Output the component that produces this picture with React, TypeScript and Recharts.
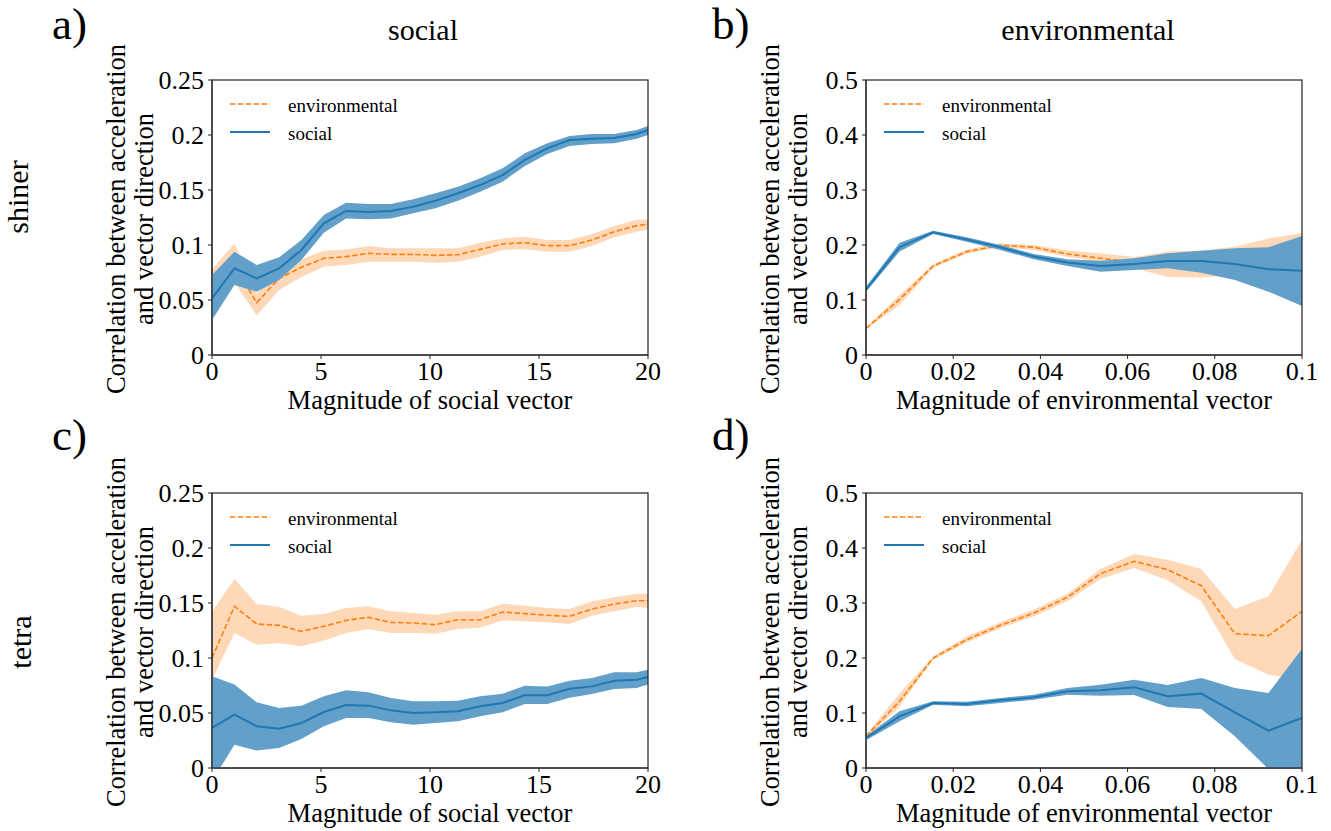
import React from 'react';
import { ComposedChart, Area, Line, XAxis, YAxis } from 'recharts';

// x positions of the bins
const socialMagnitude = [0, 1.03, 2.05, 3.08, 4.1, 5.13, 6.15, 7.18, 8.2, 9.23, 10.25, 11.28, 12.3, 13.33, 14.35, 15.38, 16.4, 17.43, 18.45, 19.48, 20];
const envMagnitude = [0, 0.0077, 0.0154, 0.0231, 0.0308, 0.0385, 0.0462, 0.0538, 0.0615, 0.0692, 0.0769, 0.0846, 0.0923, 0.1];

// a) shiner, social vector
const aSocial = [0.0515, 0.0788, 0.0697, 0.0788, 0.0955, 0.1197, 0.131, 0.13, 0.131, 0.1348, 0.1403, 0.147, 0.1545, 0.1636, 0.1773, 0.1879, 0.1955, 0.1967, 0.1973, 0.2009, 0.2045];
const aSocialLo = [0.0318, 0.0636, 0.0576, 0.0682, 0.0864, 0.1112, 0.1242, 0.1233, 0.1242, 0.1288, 0.1333, 0.1403, 0.1485, 0.1576, 0.1718, 0.1827, 0.19, 0.1918, 0.1924, 0.1967, 0.2];
const aSocialHi = [0.0727, 0.0939, 0.0818, 0.0888, 0.1045, 0.1273, 0.1385, 0.1373, 0.1373, 0.1415, 0.147, 0.153, 0.1606, 0.1697, 0.1833, 0.1924, 0.1991, 0.2009, 0.2009, 0.2045, 0.2082];
const aEnv = [0.068, 0.082, 0.0476, 0.0697, 0.0797, 0.0879, 0.0894, 0.0924, 0.0915, 0.0915, 0.0906, 0.0912, 0.096, 0.1009, 0.1021, 0.0994, 0.0994, 0.1045, 0.1121, 0.1176, 0.119];
const aEnvLo = [0.06, 0.066, 0.036, 0.059, 0.071, 0.0803, 0.0818, 0.0848, 0.0848, 0.0848, 0.0839, 0.0848, 0.0894, 0.0955, 0.0961, 0.0939, 0.0939, 0.0991, 0.107, 0.1121, 0.1142];
const aEnvHi = [0.078, 0.1015, 0.056, 0.0758, 0.087, 0.0948, 0.096, 0.099, 0.097, 0.097, 0.097, 0.097, 0.1021, 0.106, 0.1076, 0.1045, 0.1045, 0.11, 0.1173, 0.1227, 0.1233];

// b) shiner, environmental vector
const bSocial = [0.119, 0.196, 0.223, 0.21, 0.196, 0.179, 0.168, 0.162, 0.1655, 0.171, 0.171, 0.1655, 0.156, 0.153];
const bSocialLo = [0.115, 0.188, 0.22, 0.206, 0.191, 0.174, 0.1618, 0.1515, 0.1545, 0.1576, 0.1497, 0.1364, 0.1152, 0.0891];
const bSocialHi = [0.124, 0.204, 0.226, 0.214, 0.2, 0.1836, 0.174, 0.1715, 0.1758, 0.1848, 0.1897, 0.1939, 0.1958, 0.2164];
const bEnv = [0.0485, 0.101, 0.162, 0.188, 0.1994, 0.196, 0.1836, 0.176, 0.168, 0.165, 0.165, 0.17, 0.18, 0.19];
const bEnvLo = [0.047, 0.091, 0.158, 0.184, 0.196, 0.191, 0.178, 0.17, 0.158, 0.142, 0.141, 0.145, 0.148, 0.158];
const bEnvHi = [0.05, 0.109, 0.165, 0.192, 0.203, 0.2, 0.19, 0.185, 0.178, 0.188, 0.19, 0.197, 0.212, 0.222];

// c) tetra, social vector
const cSocial = [0.0364, 0.0485, 0.0379, 0.0358, 0.0409, 0.0509, 0.0573, 0.0567, 0.0524, 0.05, 0.0506, 0.0515, 0.0561, 0.0591, 0.0661, 0.0661, 0.0721, 0.0742, 0.0794, 0.0803, 0.0827];
const cSocialLo = [-0.012, 0.0212, 0.0158, 0.0182, 0.0264, 0.0379, 0.0455, 0.0455, 0.0415, 0.0394, 0.0409, 0.0424, 0.047, 0.0506, 0.0582, 0.0582, 0.0639, 0.0673, 0.0718, 0.0727, 0.0758];
const cSocialHi = [0.0833, 0.0758, 0.0597, 0.0545, 0.0567, 0.0652, 0.0706, 0.0688, 0.0636, 0.0606, 0.0606, 0.0612, 0.0652, 0.0676, 0.0748, 0.0742, 0.0794, 0.0818, 0.087, 0.087, 0.0894];
const cEnv = [0.1, 0.147, 0.1309, 0.1297, 0.1242, 0.1288, 0.1342, 0.137, 0.1324, 0.1318, 0.1303, 0.1348, 0.1348, 0.1418, 0.1403, 0.1388, 0.1379, 0.1445, 0.149, 0.1521, 0.1521];
const cEnvLo = [0.08, 0.1227, 0.112, 0.1136, 0.1106, 0.116, 0.1227, 0.1264, 0.1227, 0.1227, 0.1221, 0.1264, 0.1276, 0.1342, 0.1333, 0.1324, 0.1309, 0.1385, 0.1424, 0.1464, 0.1455];
const cEnvHi = [0.142, 0.1718, 0.149, 0.1464, 0.1385, 0.14, 0.1455, 0.147, 0.1424, 0.1409, 0.1394, 0.1424, 0.1424, 0.1494, 0.1476, 0.1455, 0.1445, 0.1515, 0.1552, 0.1585, 0.1585];

// d) tetra, environmental vector
const dSocial = [0.0545, 0.0939, 0.1182, 0.1164, 0.123, 0.1285, 0.1394, 0.1412, 0.1467, 0.1303, 0.1352, 0.1012, 0.0679, 0.0909];
const dSocialLo = [0.0503, 0.0848, 0.1152, 0.1121, 0.1182, 0.1242, 0.1333, 0.1315, 0.1327, 0.1109, 0.1073, 0.0576, -0.002, -0.03];
const dSocialHi = [0.0576, 0.103, 0.1212, 0.1206, 0.1273, 0.1333, 0.1455, 0.1515, 0.1606, 0.1509, 0.1636, 0.1455, 0.1364, 0.217];
const dEnv = [0.0576, 0.1212, 0.2, 0.2333, 0.2594, 0.2818, 0.3103, 0.3533, 0.3758, 0.3606, 0.3315, 0.2442, 0.2406, 0.2848];
const dEnvLo = [0.0527, 0.112, 0.197, 0.228, 0.254, 0.276, 0.303, 0.3436, 0.3636, 0.3412, 0.303, 0.1982, 0.1697, 0.16];
const dEnvHi = [0.0606, 0.135, 0.203, 0.239, 0.265, 0.288, 0.317, 0.3618, 0.389, 0.3788, 0.3618, 0.2891, 0.3121, 0.415];

const socialTicks = [0, 5, 10, 15, 20];
const envTicks = [0, 0.02, 0.04, 0.06, 0.08, 0.1];
const lowTicks = [0, 0.05, 0.1, 0.15, 0.2, 0.25];
const highTicks = [0, 0.1, 0.2, 0.3, 0.4, 0.5];

const FONT = "'Liberation Serif', 'Times New Roman', 'DejaVu Serif', serif";
const PW = 436;
const PH = 275;
const YW = 70;

const ORANGE = '#ff7f0e';
const ORANGE_BAND = '#ffd8b7';
const BLUE = '#1f77b4';
const BLUE_BAND = '#62a0ca';

const tickStyle = { fontSize: 26, fill: '#000', style: { fontFamily: FONT } };

type Row = { x: number; mean: number; band: number[] };

// one series (band + mean line) on its own chart, so the social layer sits on top of the environmental one
const Layer: React.FC<{
  rows: Row[];
  xTicks: number[];
  yTicks: number[];
  color: string;
  bandColor: string;
  dashed: boolean;
  axes: boolean;
}> = ({ rows, xTicks, yTicks, color, bandColor, dashed, axes }) => (
  <ComposedChart width={YW + PW + 20} height={20 + PH + 50} data={rows} margin={{ top: 20, right: 20, bottom: 0, left: 0 }}>
    <XAxis
      dataKey="x"
      type="number"
      domain={[0, xTicks[xTicks.length - 1]]}
      ticks={xTicks}
      interval={0}
      allowDataOverflow
      height={50}
      tickSize={4}
      tickMargin={3}
      tick={axes ? tickStyle : false}
      tickLine={axes}
      axisLine={axes}
      stroke="#222"
    />
    <YAxis
      type="number"
      domain={[0, yTicks[yTicks.length - 1]]}
      ticks={yTicks}
      interval={0}
      allowDataOverflow
      width={YW}
      tickSize={4}
      tickMargin={4}
      tick={axes ? tickStyle : false}
      tickLine={axes}
      axisLine={axes}
      stroke="#222"
    />
    <Area type="linear" dataKey="band" fill={bandColor} fillOpacity={1} stroke="none" isAnimationActive={false} />
    <Line
      type="linear"
      dataKey="mean"
      stroke={color}
      strokeWidth={dashed ? 1.6 : 2}
      strokeDasharray={dashed ? '5.5 2.4' : undefined}
      dot={false}
      isAnimationActive={false}
    />
  </ComposedChart>
);

type PanelProps = {
  left: number;
  top: number;
  x: number[];
  env: number[];
  envLo: number[];
  envHi: number[];
  social: number[];
  socialLo: number[];
  socialHi: number[];
  xTicks: number[];
  yTicks: number[];
};

const Panel: React.FC<PanelProps> = (p) => {
  const envRows = p.x.map((v, i) => ({ x: v, mean: p.env[i], band: [p.envLo[i], p.envHi[i]] }));
  const socialRows = p.x.map((v, i) => ({ x: v, mean: p.social[i], band: [p.socialLo[i], p.socialHi[i]] }));
  const pos: React.CSSProperties = { position: 'absolute', left: p.left - YW, top: p.top - 20, fontFamily: FONT };
  return (
    <>
      <div style={pos}>
        <Layer rows={envRows} xTicks={p.xTicks} yTicks={p.yTicks} color={ORANGE} bandColor={ORANGE_BAND} dashed axes />
      </div>
      <div style={pos}>
        <Layer rows={socialRows} xTicks={p.xTicks} yTicks={p.yTicks} color={BLUE} bandColor={BLUE_BAND} dashed={false} axes={false} />
      </div>
    </>
  );
};

const PanelText: React.FC<{ left: number; top: number; xLabel: string }> = ({ left, top, xLabel }) => {
  const cy = top + 139;
  return (
    <g>
      <rect x={left} y={top} width={PW} height={PH} fill="none" stroke="#222" strokeWidth={1.2} />
      <text x={left - 87} y={cy} fontSize={26.5} textAnchor="middle" transform={`rotate(-90 ${left - 87} ${cy})`}>
        Correlation between acceleration
      </text>
      <text x={left - 59} y={cy} fontSize={26.5} textAnchor="middle" transform={`rotate(-90 ${left - 59} ${cy})`}>
        and vector direction
      </text>
      <text x={left + PW / 2} y={top + PH + 54} fontSize={26.5} textAnchor="middle">
        {xLabel}
      </text>
      <line x1={left + 18} x2={left + 58} y1={top + 24} y2={top + 24} stroke={ORANGE} strokeWidth={1.6} strokeDasharray="5.5 2.4" />
      <text x={left + 76} y={top + 32} fontSize={19}>environmental</text>
      <line x1={left + 18} x2={left + 58} y1={top + 52} y2={top + 52} stroke={BLUE} strokeWidth={2} />
      <text x={left + 76} y={top + 60} fontSize={19}>social</text>
    </g>
  );
};

export default function App() {
  return (
    <div style={{ position: 'absolute', left: 0, top: 0, width: 1331, height: 831, background: '#fff', fontFamily: FONT }}>
      <Panel left={212} top={80} x={socialMagnitude} env={aEnv} envLo={aEnvLo} envHi={aEnvHi}
        social={aSocial} socialLo={aSocialLo} socialHi={aSocialHi} xTicks={socialTicks} yTicks={lowTicks} />
      <Panel left={866} top={80} x={envMagnitude} env={bEnv} envLo={bEnvLo} envHi={bEnvHi}
        social={bSocial} socialLo={bSocialLo} socialHi={bSocialHi} xTicks={envTicks} yTicks={highTicks} />
      <Panel left={212} top={493} x={socialMagnitude} env={cEnv} envLo={cEnvLo} envHi={cEnvHi}
        social={cSocial} socialLo={cSocialLo} socialHi={cSocialHi} xTicks={socialTicks} yTicks={lowTicks} />
      <Panel left={866} top={493} x={envMagnitude} env={dEnv} envLo={dEnvLo} envHi={dEnvHi}
        social={dSocial} socialLo={dSocialLo} socialHi={dSocialHi} xTicks={envTicks} yTicks={highTicks} />
      <svg width={1331} height={831} style={{ position: 'absolute', left: 0, top: 0, pointerEvents: 'none', fontFamily: FONT }} fill="#000">
        <text x={52} y={39} fontSize={45}>a)</text>
        <text x={712} y={39} fontSize={45}>b)</text>
        <text x={52} y={450} fontSize={45}>c)</text>
        <text x={712} y={450} fontSize={45}>d)</text>
        <text x={423} y={40} fontSize={30} textAnchor="middle">social</text>
        <text x={1088} y={40} fontSize={30} textAnchor="middle">environmental</text>
        <text x={28} y={197} fontSize={30} textAnchor="middle" transform="rotate(-90 28 197)">shiner</text>
        <text x={31} y={642} fontSize={30} textAnchor="middle" transform="rotate(-90 31 642)">tetra</text>
        <PanelText left={212} top={80} xLabel="Magnitude of social vector" />
        <PanelText left={866} top={80} xLabel="Magnitude of environmental vector" />
        <PanelText left={212} top={493} xLabel="Magnitude of social vector" />
        <PanelText left={866} top={493} xLabel="Magnitude of environmental vector" />
      </svg>
    </div>
  );
}
